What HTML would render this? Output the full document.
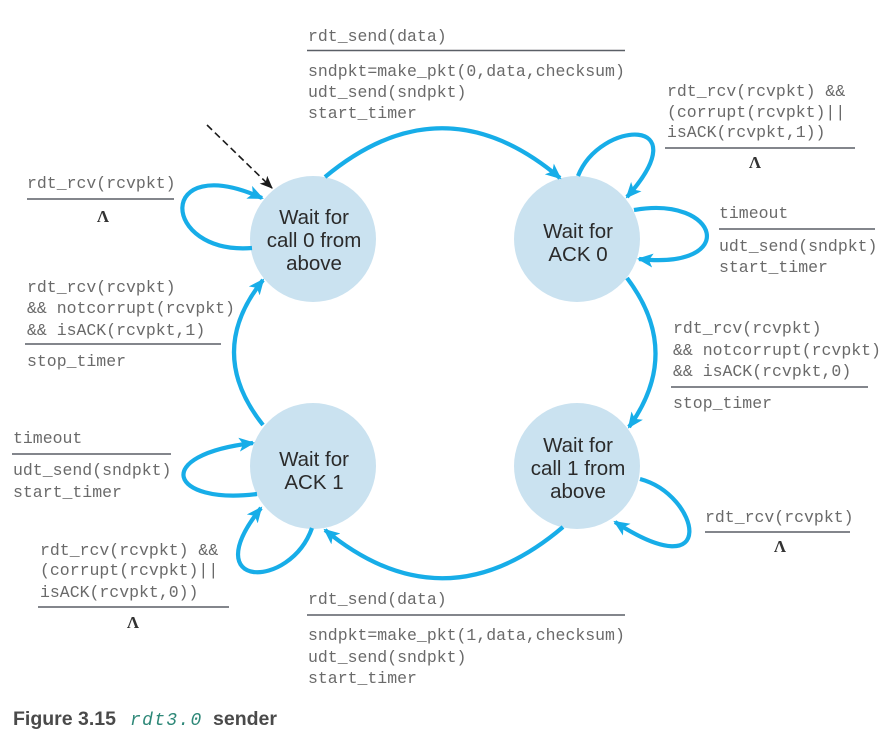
<!DOCTYPE html>
<html>
<head>
<meta charset="utf-8">
<style>
  html, body { margin: 0; padding: 0; background: #ffffff; }
  body { width: 894px; height: 749px; overflow: hidden; }
  svg { display: block; }
  .m { font-family: "Liberation Mono", "Courier New", monospace; font-size: 16.5px; fill: #6a6a6a; }
  .s { font-family: "Liberation Sans", Arial, sans-serif; font-size: 20.5px; fill: #2b2b2b; text-anchor: middle; }
  .L { font-family: "Liberation Serif", serif; font-size: 17px; font-weight: bold; fill: #333; text-anchor: middle; }
  .rule { stroke: #5a5f66; stroke-width: 1.6; }
  .e { fill: none; stroke: #17ade8; stroke-width: 4.2; marker-end: url(#ah); }
</style>
</head>
<body>
<svg width="894" height="749" viewBox="0 0 894 749" xmlns="http://www.w3.org/2000/svg">
  <defs>
    <marker id="ah" viewBox="0 0 16 14" refX="14" refY="7" markerWidth="16" markerHeight="14" markerUnits="userSpaceOnUse" orient="auto">
      <path d="M0,0 L16,7 L0,14 L4,7 Z" fill="#17ade8"/>
    </marker>
    <marker id="bh" viewBox="0 0 12 10" refX="11" refY="5" markerWidth="13" markerHeight="11" markerUnits="userSpaceOnUse" orient="auto">
      <path d="M0,0 L12,5 L0,10 L3,5 Z" fill="#1a1a1a"/>
    </marker>
  </defs>

  <!-- circles -->
  <circle cx="313" cy="239" r="63" fill="#cae2f0"/>
  <circle cx="577" cy="239" r="63" fill="#cae2f0"/>
  <circle cx="313" cy="466" r="63" fill="#cae2f0"/>
  <circle cx="577" cy="466" r="63" fill="#cae2f0"/>

  <!-- big arcs -->
  <path class="e" d="M325,177 Q443,79 560,178"/>
  <path class="e" d="M627,278 Q683,352 629,427"/>
  <path class="e" d="M563,527 Q444,628 325,530"/>
  <path class="e" d="M263,425 Q205,352 263,280"/>

  <!-- self loops -->
  <path class="e" d="M252,248 C160,255 155,150 262,198"/>
  <path class="e" d="M578,176 C600,120 700,115 627,197"/>
  <path class="e" d="M634,210 C720,195 740,270 639,259"/>
  <path class="e" d="M640,479 C700,495 720,590 615,522"/>
  <path class="e" d="M257,494 C170,505 150,455 253,443"/>
  <path class="e" d="M312,528 C290,590 195,590 261,508"/>

  <!-- initial dashed arrow -->
  <path d="M207,125 L272,188" stroke="#1a1a1a" stroke-width="1.6" stroke-dasharray="7,4" fill="none" marker-end="url(#bh)"/>

  <!-- state labels -->
  <text class="s" x="314" y="224">Wait for</text>
  <text class="s" x="314" y="247">call 0 from</text>
  <text class="s" x="314" y="270">above</text>

  <text class="s" x="578" y="238">Wait for</text>
  <text class="s" x="578" y="261">ACK 0</text>

  <text class="s" x="314" y="466">Wait for</text>
  <text class="s" x="314" y="489">ACK 1</text>

  <text class="s" x="578" y="452">Wait for</text>
  <text class="s" x="578" y="475">call 1 from</text>
  <text class="s" x="578" y="498">above</text>

  <!-- top label -->
  <text class="m" x="308" y="41">rdt_send(data)</text>
  <line class="rule" x1="307" y1="50.5" x2="625" y2="50.5"/>
  <text class="m" x="308" y="76">sndpkt=make_pkt(0,data,checksum)</text>
  <text class="m" x="308" y="97">udt_send(sndpkt)</text>
  <text class="m" x="308" y="118">start_timer</text>

  <!-- right top -->
  <text class="m" x="667" y="96">rdt_rcv(rcvpkt) &amp;&amp;</text>
  <text class="m" x="667" y="117">(corrupt(rcvpkt)||</text>
  <text class="m" x="667" y="137">isACK(rcvpkt,1))</text>
  <line class="rule" x1="665" y1="148" x2="855" y2="148"/>
  <text class="L" x="755" y="168">Λ</text>

  <text class="m" x="719" y="218">timeout</text>
  <line class="rule" x1="719" y1="229" x2="875" y2="229"/>
  <text class="m" x="719" y="251">udt_send(sndpkt)</text>
  <text class="m" x="719" y="272">start_timer</text>

  <!-- right middle -->
  <text class="m" x="673" y="333">rdt_rcv(rcvpkt)</text>
  <text class="m" x="673" y="355">&amp;&amp; notcorrupt(rcvpkt)</text>
  <text class="m" x="673" y="376">&amp;&amp; isACK(rcvpkt,0)</text>
  <line class="rule" x1="671" y1="387" x2="868" y2="387"/>
  <text class="m" x="673" y="408">stop_timer</text>

  <!-- right bottom -->
  <text class="m" x="705" y="522">rdt_rcv(rcvpkt)</text>
  <line class="rule" x1="705" y1="532" x2="850" y2="532"/>
  <text class="L" x="780" y="552">Λ</text>

  <!-- left top -->
  <text class="m" x="27" y="188">rdt_rcv(rcvpkt)</text>
  <line class="rule" x1="27" y1="199" x2="174" y2="199"/>
  <text class="L" x="103" y="222">Λ</text>

  <!-- left middle -->
  <text class="m" x="27" y="292">rdt_rcv(rcvpkt)</text>
  <text class="m" x="27" y="313">&amp;&amp; notcorrupt(rcvpkt)</text>
  <text class="m" x="27" y="335">&amp;&amp; isACK(rcvpkt,1)</text>
  <line class="rule" x1="25" y1="344" x2="221" y2="344"/>
  <text class="m" x="27" y="366">stop_timer</text>

  <!-- left bottom -->
  <text class="m" x="13" y="443">timeout</text>
  <line class="rule" x1="12" y1="454" x2="171" y2="454"/>
  <text class="m" x="13" y="475">udt_send(sndpkt)</text>
  <text class="m" x="13" y="497">start_timer</text>

  <text class="m" x="40" y="555">rdt_rcv(rcvpkt) &amp;&amp;</text>
  <text class="m" x="40" y="575">(corrupt(rcvpkt)||</text>
  <text class="m" x="40" y="597">isACK(rcvpkt,0))</text>
  <line class="rule" x1="38" y1="607" x2="229" y2="607"/>
  <text class="L" x="133" y="628">Λ</text>

  <!-- bottom label -->
  <text class="m" x="308" y="604">rdt_send(data)</text>
  <line class="rule" x1="307" y1="615" x2="625" y2="615"/>
  <text class="m" x="308" y="640">sndpkt=make_pkt(1,data,checksum)</text>
  <text class="m" x="308" y="662">udt_send(sndpkt)</text>
  <text class="m" x="308" y="683">start_timer</text>

  <!-- caption -->
  <text x="13" y="725" font-family="Liberation Sans, Arial, sans-serif" font-size="19.5" font-weight="bold" fill="#4a4a4a">Figure 3.15</text>
  <text x="130" y="725" font-family="Liberation Mono, monospace" font-size="18" font-style="italic" fill="#2e8878" letter-spacing="1.3">rdt3.0</text>
  <text x="213" y="725" font-family="Liberation Sans, Arial, sans-serif" font-size="19.5" font-weight="bold" fill="#4a4a4a">sender</text>
</svg>
</body>
</html>
